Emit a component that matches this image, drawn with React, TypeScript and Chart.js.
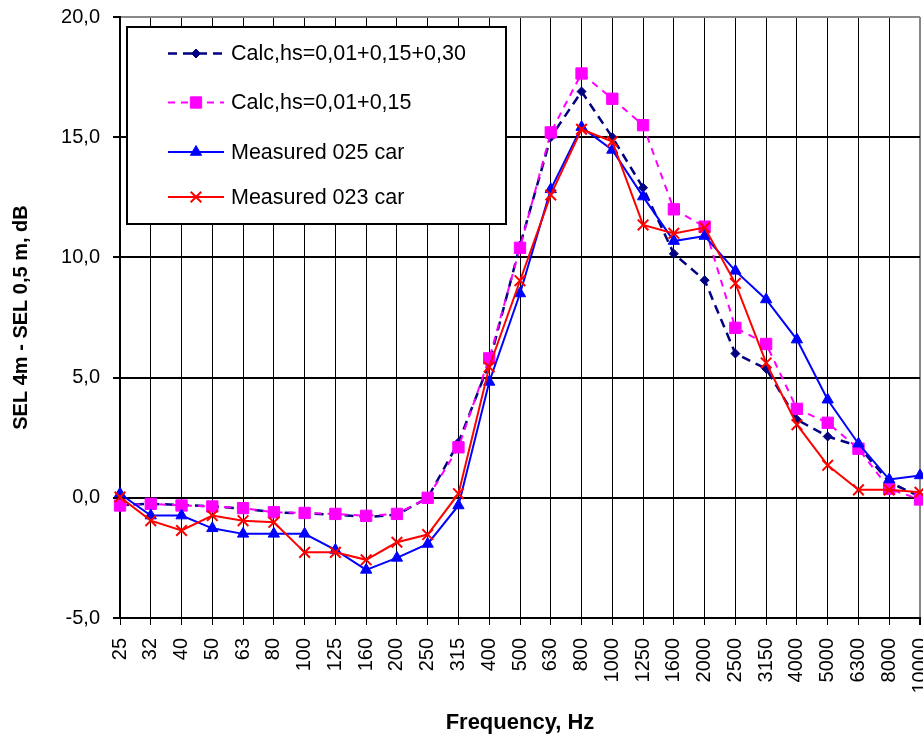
import React, { useEffect, useRef } from "react";
import { Chart, registerables } from "chart.js";
import { drawPoint } from "chart.js/helpers";

Chart.register(...registerables);

const frequencies = ["25", "32", "40", "50", "63", "80", "100", "125", "160", "200", "250", "315", "400", "500", "630", "800", "1000", "1250", "1600", "2000", "2500", "3150", "4000", "5000", "6300", "8000", "10000"];

const calcThreeLayers = [-0.3, -0.25, -0.3, -0.35, -0.45, -0.6, -0.65, -0.7, -0.8, -0.7, 0.0, 2.3, 5.6, 10.5, 15.0, 16.9, 15.0, 12.9, 10.15, 9.05, 6.0, 5.37, 3.25, 2.55, 2.15, 0.65, 0.05];
const calcTwoLayers = [-0.32, -0.25, -0.32, -0.36, -0.43, -0.6, -0.63, -0.67, -0.75, -0.67, 0.0, 2.1, 5.8, 10.4, 15.2, 17.65, 16.6, 15.5, 12.0, 11.28, 7.07, 6.4, 3.7, 3.12, 2.04, 0.37, -0.07];
const measured025 = [0.17, -0.74, -0.74, -1.27, -1.5, -1.5, -1.5, -2.17, -3.0, -2.5, -1.92, -0.32, 4.82, 8.5, 12.83, 15.42, 14.47, 12.53, 10.68, 10.89, 9.44, 8.25, 6.58, 4.08, 2.25, 0.76, 0.93];
const measured023 = [0.03, -0.95, -1.36, -0.74, -0.95, -1.02, -2.27, -2.27, -2.58, -1.85, -1.53, 0.17, 5.44, 9.03, 12.6, 15.33, 14.82, 11.35, 11.0, 11.24, 8.92, 5.61, 3.04, 1.35, 0.33, 0.33, 0.23];

const seriesNames = ["Calc,hs=0,01+0,15+0,30", "Calc,hs=0,01+0,15", "Measured 025 car", "Measured 023 car"];

const yMin = -5;
const yMax = 20;
const yStep = 5;

const FONT = "'Liberation Sans', Arial, sans-serif";

const legendPlugin = {
  id: "boxLegend",
  afterDatasetsDraw(chart: any) {
    const ctx = chart.ctx;
    const box = { x: 127, y: 27, w: 379, h: 197 };
    ctx.save();
    ctx.fillStyle = "#fff";
    ctx.fillRect(box.x, box.y, box.w, box.h);
    ctx.strokeStyle = "#000";
    ctx.lineWidth = 2;
    ctx.strokeRect(box.x, box.y, box.w, box.h);
    const rows = [53.5, 102.5, 152, 197];
    chart.data.datasets.forEach((ds: any, i: number) => {
      const y = rows[i];
      ctx.save();
      ctx.strokeStyle = ds.borderColor;
      ctx.lineWidth = ds.borderWidth;
      ctx.setLineDash(ds.borderDash || []);
      ctx.beginPath();
      ctx.moveTo(168, y);
      ctx.lineTo(224, y);
      ctx.stroke();
      ctx.setLineDash([]);
      ctx.fillStyle = ds.pointBackgroundColor;
      ctx.strokeStyle = ds.pointBorderColor;
      ctx.lineWidth = ds.pointBorderWidth;
      drawPoint(ctx, { pointStyle: ds.pointStyle, radius: ds.pointRadius, rotation: 0, borderWidth: ds.pointBorderWidth }, 196, y);
      ctx.restore();
      ctx.fillStyle = "#000";
      ctx.font = `21.5px ${FONT}`;
      ctx.textBaseline = "middle";
      ctx.textAlign = "left";
      ctx.fillText(ds.label, 231, y + 1);
    });
    ctx.restore();
  },
};

export default function App() {
  const ref = useRef<HTMLCanvasElement | null>(null);
  useEffect(() => {
    if (!ref.current) return;
    const chart = new Chart(ref.current, {
      type: "line",
      data: {
        labels: frequencies,
        datasets: [
          {
            label: seriesNames[0],
            data: calcThreeLayers,
            borderColor: "#000080",
            borderWidth: 2.5,
            borderDash: [9, 6],
            pointStyle: "rectRot",
            pointRadius: 4.5,
            pointBackgroundColor: "#000080",
            pointBorderColor: "#000080",
            pointBorderWidth: 1,
            order: 4,
            clip: false,
          },
          {
            label: seriesNames[1],
            data: calcTwoLayers,
            borderColor: "#FF00FF",
            borderWidth: 2,
            borderDash: [7, 6],
            pointStyle: "rect",
            pointRadius: 8,
            pointBackgroundColor: "#FF00FF",
            pointBorderColor: "#FF00FF",
            pointBorderWidth: 1,
            order: 3,
            clip: false,
          },
          {
            label: seriesNames[2],
            data: measured025,
            borderColor: "#0000FF",
            borderWidth: 2,
            pointStyle: "triangle",
            pointRadius: 6.5,
            pointBackgroundColor: "#0000FF",
            pointBorderColor: "#0000FF",
            pointBorderWidth: 1,
            order: 2,
            clip: false,
          },
          {
            label: seriesNames[3],
            data: measured023,
            borderColor: "#FF0000",
            borderWidth: 2,
            pointStyle: "crossRot",
            pointRadius: 7.5,
            pointBackgroundColor: "#FF0000",
            pointBorderColor: "#FF0000",
            pointBorderWidth: 2,
            order: 1,
            clip: false,
          },
        ],
      },
      options: {
        responsive: false,
        animation: false,
        devicePixelRatio: 1,
        events: [],
        layout: { autoPadding: false, padding: { left: 0, right: 3, top: 17, bottom: 0 } },
        plugins: {
          legend: { display: false },
          tooltip: { enabled: false },
        },
        elements: { line: { tension: 0 } },
        scales: {
          x: {
            type: "category",
            offset: false,
            afterFit: (s: any) => {
              s.height = 125;
              s.paddingLeft = 0;
              s.paddingRight = 0;
              if (s._margins) {
                s._margins.left = 0;
                s._margins.right = 0;
              }
            },
            grid: {
              offset: false,
              color: (c: any) => (c.index === frequencies.length - 1 ? "#888" : "#000"),
              tickColor: "#000",
              lineWidth: (c: any) => (c.index === frequencies.length - 1 ? 2 : 1),
              tickLength: 7,
            },
            border: { display: true, color: "#000", width: 2 },
            ticks: {
              autoSkip: false,
              maxRotation: 90,
              minRotation: 90,
              padding: 13,
              color: "#000",
              font: { family: FONT, size: 20 },
            },
            title: {
              display: true,
              text: "Frequency, Hz",
              color: "#000",
              font: { family: FONT, size: 22, weight: "bold" },
              padding: { top: 0, bottom: 7 },
            },
          },
          y: {
            min: yMin,
            max: yMax,
            afterFit: (s: any) => {
              s.width = 120;
              s.paddingTop = 0;
              s.paddingBottom = 0;
              if (s._margins) {
                s._margins.top = 0;
                s._margins.bottom = 0;
              }
            },
            grid: {
              color: (c: any) => (c.tick && c.tick.value === yMax ? "#888" : "#000"),
              tickColor: "#000",
              lineWidth: 2,
              tickLength: 7,
            },
            border: { display: true, color: "#000", width: 2 },
            ticks: {
              stepSize: yStep,
              padding: 13,
              color: "#000",
              font: { family: FONT, size: 20 },
              callback: (v: any) => Number(v).toFixed(1).replace(".", ","),
            },
            title: {
              display: true,
              text: "SEL 4m - SEL 0,5 m, dB",
              color: "#000",
              font: { family: FONT, size: 20, weight: "bold" },
              padding: { top: 9, bottom: 0 },
            },
          },
        },
      },
      plugins: [legendPlugin],
    } as any);
    return () => chart.destroy();
  }, []);
  return (
    <div style={{ position: "absolute", left: 0, top: 0, width: 923, height: 743, background: "#fff" }}>
      <canvas ref={ref} width={923} height={743} style={{ display: "block" }} />
    </div>
  );
}
